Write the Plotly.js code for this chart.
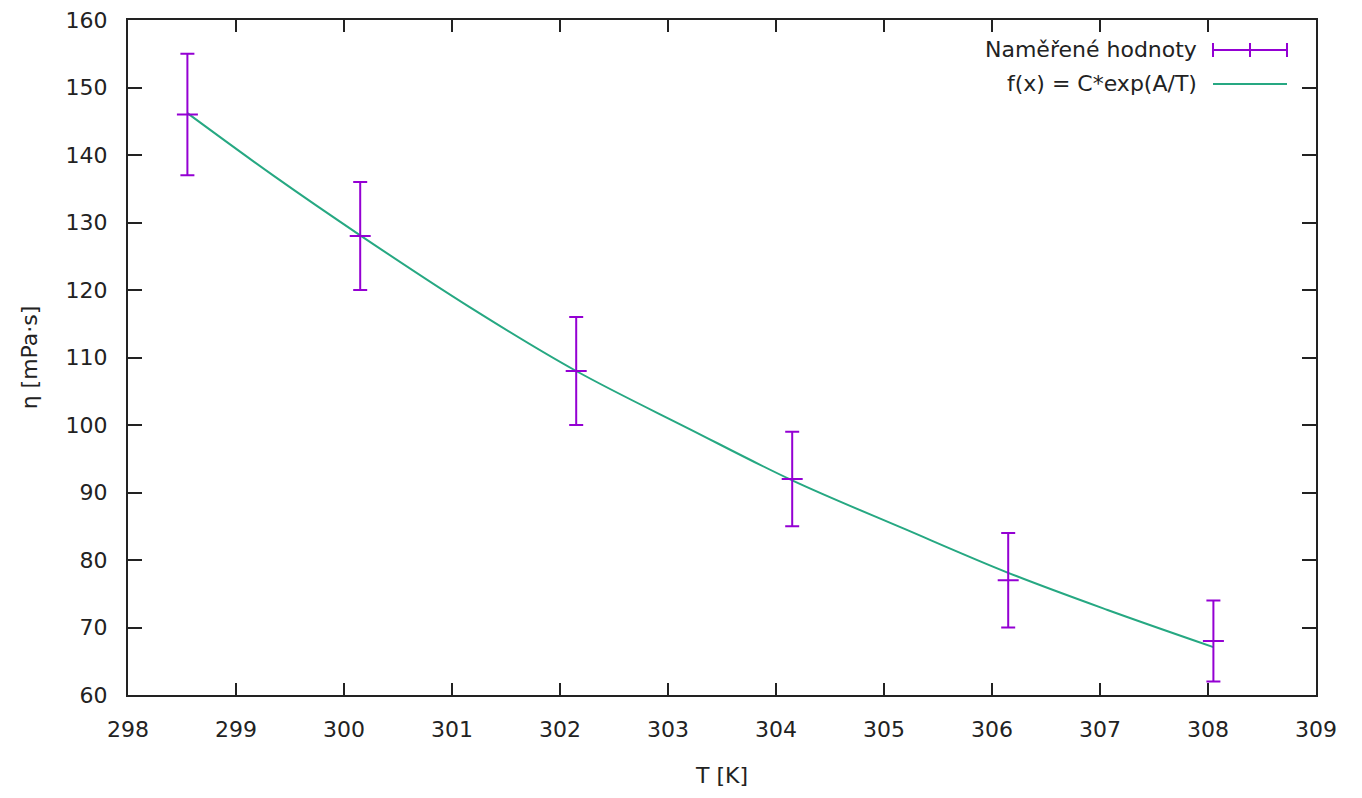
<!DOCTYPE html>
<html>
<head>
<meta charset="utf-8">
<script src="https://cdn.plot.ly/plotly-3.0.1.min.js"></script>
<style>
html,body{margin:0;padding:0;background:#fff;}
#chart{width:1362px;height:798px;}
</style>
</head>
<body>
<div id="chart"></div>
<script>
// Measured data
const T_meas = [298.55, 300.15, 302.15, 304.15, 306.15, 308.05];
const eta_meas = [146, 128, 108, 92, 77, 68];
const eta_err = [9, 8, 8, 7, 7, 6];

// Fit curve
const T_fit = [298.55, 299.35, 300.15, 301.16, 302.15, 303.2, 304.15, 305.19, 306.15, 307.07, 308.05];
const eta_fit = [146.2, 136.9, 128.1, 117.5, 108.0, 99.4, 91.8, 84.6, 78.1, 72.6, 67.1];

const labelMeas = "Naměřené hodnoty";
const labelFit = "f(x) = C*exp(A/T)";

const purple = "#9400d3";
const green = "#26a882";
const font = "DejaVu Sans, Verdana, sans-serif";
const fs = 22;
const txt = "#222";

const traces = [
  {
    x: T_fit, y: eta_fit, type: "scatter", mode: "lines",
    line: {color: green, width: 2, shape: "spline", smoothing: 1},
    showlegend: false, hoverinfo: "skip"
  },
  {
    x: T_meas, y: eta_meas, type: "scatter", mode: "markers",
    marker: {symbol: "line-ew", size: 15, color: purple, line: {color: purple, width: 2}},
    error_y: {type: "data", array: eta_err, visible: true, color: purple, thickness: 2, width: 7},
    showlegend: false
  }
];

const W = 1362, H = 798;
const L = 128, R = 46, Tm = 20, B = 103;
const pw = W - L - R, ph = H - Tm - B;
function px(x){ return (x - L) / pw; }
function py(y){ return 1 - (y - Tm) / ph; }

const row1 = 50, row2 = 84;
const sx0 = 1213, sx1 = 1287, sxm = 1250, capH = 7;

const shapes = [
  {type:"line", xref:"paper", yref:"paper", x0:px(sx0), x1:px(sx1), y0:py(row1), y1:py(row1), line:{color:purple, width:2}},
  {type:"line", xref:"paper", yref:"paper", x0:px(sx0), x1:px(sx0), y0:py(row1-capH), y1:py(row1+capH), line:{color:purple, width:2}},
  {type:"line", xref:"paper", yref:"paper", x0:px(sxm), x1:px(sxm), y0:py(row1-capH), y1:py(row1+capH), line:{color:purple, width:2}},
  {type:"line", xref:"paper", yref:"paper", x0:px(sx1), x1:px(sx1), y0:py(row1-capH), y1:py(row1+capH), line:{color:purple, width:2}},
  {type:"line", xref:"paper", yref:"paper", x0:px(sx0), x1:px(sx1), y0:py(row2), y1:py(row2), line:{color:green, width:2}}
];

const annotations = [
  {xref:"paper", yref:"paper", x:px(1199), y:py(row1), xanchor:"right", yanchor:"middle", text:labelMeas, showarrow:false, font:{family:font, size:fs, color:txt}},
  {xref:"paper", yref:"paper", x:px(1199), y:py(row2), xanchor:"right", yanchor:"middle", text:labelFit, showarrow:false, font:{family:font, size:fs, color:txt}}
];

const layout = {
  width: W, height: H,
  margin: {l: L, r: R, t: Tm, b: B, pad: 0},
  paper_bgcolor: "#fff", plot_bgcolor: "#fff",
  font: {family: font, size: fs, color: txt},
  showlegend: false,
  xaxis: {
    range: [298, 309], dtick: 1, tick0: 298,
    ticks: "inside", ticklen: 12, tickwidth: 2, tickcolor: txt,
    showline: true, linecolor: txt, linewidth: 2, mirror: "ticks",
    showgrid: false, zeroline: false, ticklabelstandoff: 14,
    tickfont: {family: font, size: fs, color: txt},
    title: {text: "T [K]", font: {family: font, size: fs, color: txt}, standoff: 26}
  },
  yaxis: {
    range: [60, 160], dtick: 10, tick0: 60,
    ticks: "inside", ticklen: 14, tickwidth: 2, tickcolor: txt,
    showline: true, linecolor: txt, linewidth: 2, mirror: "ticks",
    showgrid: false, zeroline: false, ticklabelstandoff: 14,
    tickfont: {family: font, size: fs, color: txt},
    title: {text: "η [mPa·s]", font: {family: font, size: fs, color: txt}, standoff: 22}
  },
  shapes: shapes,
  annotations: annotations
};

Plotly.newPlot("chart", traces, layout, {displayModeBar: false, staticPlot: true});
</script>
</body>
</html>
